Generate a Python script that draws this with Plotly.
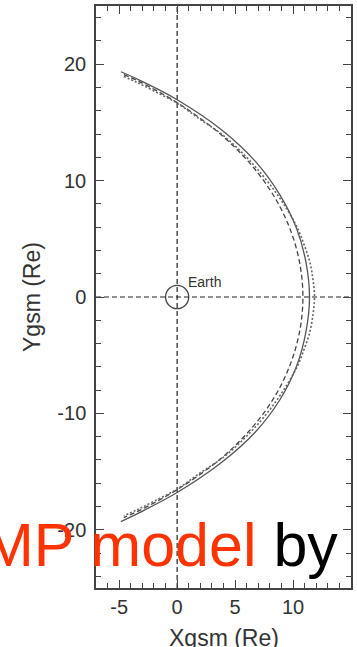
import plotly.graph_objects as go

# Magnetopause model curves (Xgsm, Ygsm in Re)
solid_x = [-4.85, -3.3, 0.0, 3.85, 6.75, 8.85, 10.3, 11.12, 11.42, 11.12, 10.3, 8.85, 6.75, 3.85, 0.0, -3.3, -4.85]
solid_y = [19.35, 18.65, 16.95, 14.35, 11.65, 8.8, 5.9, 2.95, 0.0, -2.95, -5.95, -8.85, -11.6, -14.2, -16.8, -18.55, -19.3]

dash_x = [-4.6, -3.27, 0.0, 3.75, 6.49, 8.47, 9.81, 10.59, 10.85, 10.59, 9.81, 8.47, 6.49, 3.75, 0.0, -3.27, -4.6]
dash_y = [19.1, 18.5, 16.7, 13.98, 11.24, 8.47, 5.66, 2.84, 0.0, -2.84, -5.66, -8.47, -11.2, -13.9, -16.55, -18.35, -18.95]

dot_x = [-4.6, -3.5, -2.0, 0.0, 2.0, 3.95, 5.8, 7.25, 8.5, 9.5, 10.35, 10.95, 11.45, 11.72, 11.85,
         11.72, 11.45, 10.95, 10.35, 9.5, 8.5, 7.25, 5.8, 3.95, 2.0, 0.0, -2.0, -3.5, -4.6]
dot_y = [18.95, 18.45, 17.7, 16.65, 15.25, 13.9, 12.2, 10.6, 9.0, 7.5, 6.0, 4.5, 3.0, 1.5, 0.0,
         -1.5, -3.0, -4.5, -6.0, -7.5, -9.0, -10.6, -12.15, -13.8, -15.1, -16.5, -17.55, -18.3, -18.8]

earth_radius = 1.0
earth_label = "Earth"
x_range = [-7, 15]
y_range = [-25, 25]
x_ticks = [-5, 0, 5, 10, 15]
x_tick_labels = ["-5", "0", "5", "10", "15"]
y_ticks = [-20, -10, 0, 10, 20]
y_tick_labels = ["-20", "-10", "0", "10", "20"]

fig = go.Figure()
fig.add_trace(go.Scatter(x=solid_x, y=solid_y, mode="lines", line=dict(color="#555555", width=1.3, shape="spline"), showlegend=False))
fig.add_trace(go.Scatter(x=dash_x, y=dash_y, mode="lines", line=dict(color="#444444", width=1.3, dash="5px,3px", shape="spline"), showlegend=False))
fig.add_trace(go.Scatter(x=dot_x, y=dot_y, mode="lines", line=dict(color="#666666", width=1.6, dash="2px,2px", shape="spline"), showlegend=False))

# reference axes through the origin
fig.add_shape(type="line", x0=0, x1=0, y0=y_range[0], y1=y_range[1], line=dict(color="#222", width=1.2, dash="5px,3px"), layer="below")
fig.add_shape(type="line", x0=x_range[0], x1=x_range[1], y0=0, y1=0, line=dict(color="#222", width=1.2, dash="5px,3px"), layer="below")
fig.add_shape(type="circle", x0=-earth_radius, x1=earth_radius, y0=-earth_radius, y1=earth_radius, line=dict(color="#444", width=1.3))

axis_common = dict(showline=True, linecolor="#444", linewidth=1.5, mirror="ticks", ticks="inside",
                   ticklen=8, tickwidth=1.3, tickcolor="#444", showgrid=False, zeroline=False,
                   tickfont=dict(family="Liberation Sans, Arial", size=20, color="#333"))
fig.update_xaxes(range=x_range, tickvals=x_ticks, ticktext=x_tick_labels,
                 minor=dict(dtick=1, ticks="inside", ticklen=5, tickcolor="#444", tickwidth=1.1), **axis_common)
fig.update_yaxes(range=y_range, tickvals=y_ticks, ticktext=y_tick_labels,
                 minor=dict(dtick=2, ticks="inside", ticklen=5, tickcolor="#444", tickwidth=1.1), ticklabelstandoff=4, **axis_common)

fig.add_annotation(x=0.75, y=1.25, text=earth_label, showarrow=False, xanchor="left", yanchor="middle",
                   font=dict(family="Liberation Sans, Arial", size=14, color="#333"))
fig.add_annotation(xref="paper", yref="paper", x=0.5, y=-0.0859, text="Xgsm (Re)", showarrow=False,
                   xanchor="center", yanchor="middle", font=dict(family="Liberation Sans, Arial", size=23, color="#333"))
fig.add_annotation(xref="paper", yref="paper", x=-0.251, y=0.5, text="Ygsm (Re)", showarrow=False, textangle=-90,
                   xanchor="center", yanchor="middle", font=dict(family="Liberation Sans, Arial", size=23, color="#333"))
fig.add_annotation(xref="paper", yref="paper", x=0.957, y=0.0739,
                   text='<span style="color:#ff3300">MP model</span> by', showarrow=False,
                   xanchor="right", yanchor="middle", font=dict(family="Liberation Sans, Arial", size=61, color="#000"))

fig.update_layout(width=357, height=647, margin=dict(l=96, r=4, t=6, b=59),
                  paper_bgcolor="white", plot_bgcolor="white")
fig.write_html("out.html")
